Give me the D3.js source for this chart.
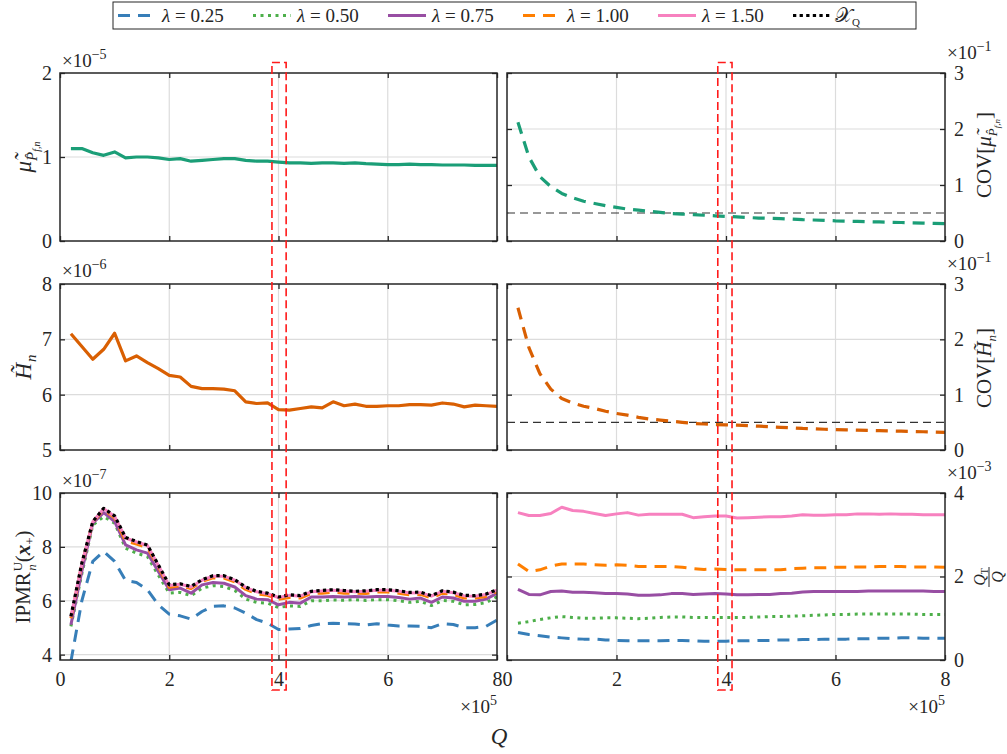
<!DOCTYPE html>
<html>
<head>
<meta charset="utf-8">
<script src="https://cdn.jsdelivr.net/npm/d3@7.9.0/dist/d3.min.js"></script>
<style>
  body { margin: 0; background: #fff; }
  text { font-family: "Liberation Serif", "DejaVu Serif", serif; fill: #262626; }
</style>
</head>
<body>
<svg id="fig" width="1007" height="754"></svg>
<script>
// sample sizes Q (x 10^5)
const Q = [0.2, 0.4, 0.6, 0.8, 1.0, 1.2, 1.4, 1.6, 1.8, 2.0, 2.2, 2.4, 2.6, 2.8, 3.0, 3.2, 3.4, 3.6, 3.8, 4.0,
           4.2, 4.4, 4.6, 4.8, 5.0, 5.2, 5.4, 5.6, 5.8, 6.0, 6.2, 6.4, 6.6, 6.8, 7.0, 7.2, 7.4, 7.6, 7.8, 8.0];

// mean estimate (x 10^-5) and its COV (x 10^-1)
const muPf = [1.10, 1.10, 1.05, 1.02, 1.06, 0.99, 1.00, 1.00, 0.99, 0.97, 0.98, 0.95, 0.96, 0.97, 0.98, 0.98, 0.96, 0.95, 0.95, 0.94,
              0.93, 0.93, 0.925, 0.93, 0.93, 0.925, 0.93, 0.92, 0.915, 0.91, 0.91, 0.915, 0.91, 0.91, 0.905, 0.905, 0.905, 0.90, 0.90, 0.90];
const covMu = [2.12, 1.50, 1.15, 0.97, 0.85, 0.77, 0.71, 0.67, 0.63, 0.60, 0.57, 0.55, 0.53, 0.51, 0.49, 0.48, 0.47, 0.46, 0.45, 0.44,
               0.43, 0.42, 0.41, 0.405, 0.40, 0.39, 0.38, 0.375, 0.37, 0.36, 0.355, 0.35, 0.345, 0.34, 0.335, 0.33, 0.325, 0.32, 0.315, 0.31];

// H_n (x 10^-6) and its COV (x 10^-1)
const Hn = [7.10, 6.87, 6.64, 6.82, 7.11, 6.61, 6.70, 6.58, 6.47, 6.35, 6.32, 6.15, 6.11, 6.11, 6.10, 6.07, 5.87, 5.84, 5.85, 5.73,
            5.72, 5.75, 5.78, 5.76, 5.87, 5.80, 5.83, 5.79, 5.79, 5.80, 5.80, 5.82, 5.82, 5.81, 5.85, 5.83, 5.78, 5.81, 5.80, 5.79];
const covH = [2.57, 1.85, 1.38, 1.10, 0.93, 0.85, 0.79, 0.75, 0.70, 0.66, 0.63, 0.59, 0.56, 0.54, 0.52, 0.50, 0.48, 0.47, 0.46, 0.455,
              0.45, 0.44, 0.43, 0.42, 0.41, 0.40, 0.39, 0.385, 0.375, 0.37, 0.365, 0.36, 0.355, 0.35, 0.345, 0.34, 0.335, 0.33, 0.325, 0.32];
const covTarget = 0.5;

// IPMR^U_n(x+) (x 10^-7)
const ipmr025 = [3.75, 6.00, 7.46, 7.83, 7.46, 6.75, 6.68, 6.41, 5.85, 5.50, 5.44, 5.32, 5.60, 5.79, 5.81, 5.73, 5.54, 5.30, 5.17, 4.93,
                 4.95, 4.97, 5.08, 5.15, 5.16, 5.15, 5.14, 5.10, 5.15, 5.10, 5.06, 5.06, 5.05, 5.00, 5.15, 5.12, 5.00, 5.00, 5.05, 5.28];
const ipmr050 = [5.05, 7.00, 8.81, 9.12, 8.88, 7.95, 7.77, 7.64, 6.95, 6.28, 6.31, 6.19, 6.47, 6.56, 6.53, 6.38, 6.06, 5.94, 5.91, 5.75,
                 5.81, 5.79, 6.00, 6.00, 6.03, 6.02, 6.04, 6.01, 6.04, 6.04, 6.00, 5.94, 5.98, 5.82, 6.01, 5.98, 5.85, 5.86, 5.93, 6.15];
const ipmr075 = [5.11, 7.10, 8.88, 9.27, 8.94, 8.07, 7.89, 7.77, 7.09, 6.41, 6.47, 6.28, 6.59, 6.68, 6.65, 6.51, 6.19, 6.06, 6.04, 5.85,
                 5.94, 5.91, 6.14, 6.14, 6.16, 6.14, 6.16, 6.14, 6.16, 6.16, 6.12, 6.06, 6.10, 5.94, 6.14, 6.10, 5.98, 5.98, 6.06, 6.28];
const ipmr100 = [5.35, 7.35, 8.92, 9.38, 9.08, 8.22, 8.10, 7.98, 7.25, 6.50, 6.56, 6.45, 6.72, 6.85, 6.84, 6.70, 6.42, 6.26, 6.20, 6.05,
                 6.12, 6.10, 6.27, 6.28, 6.32, 6.28, 6.28, 6.27, 6.32, 6.32, 6.28, 6.22, 6.24, 6.10, 6.28, 6.24, 6.10, 6.10, 6.16, 6.34];
const ipmr150 = [5.40, 7.38, 8.93, 9.42, 9.13, 8.33, 8.18, 8.05, 7.31, 6.57, 6.61, 6.51, 6.76, 6.91, 6.91, 6.76, 6.49, 6.33, 6.26, 6.12,
                 6.20, 6.17, 6.33, 6.36, 6.39, 6.36, 6.33, 6.35, 6.39, 6.39, 6.35, 6.29, 6.30, 6.17, 6.35, 6.30, 6.18, 6.17, 6.23, 6.39];
const ipmrXQ  = [5.42, 7.40, 8.94, 9.43, 9.15, 8.35, 8.20, 8.07, 7.33, 6.59, 6.63, 6.53, 6.78, 6.93, 6.93, 6.78, 6.51, 6.35, 6.28, 6.14,
                 6.22, 6.19, 6.35, 6.38, 6.41, 6.38, 6.35, 6.37, 6.41, 6.41, 6.37, 6.31, 6.32, 6.19, 6.37, 6.32, 6.20, 6.19, 6.25, 6.41];

// Q_T / Q (x 10^-3)
const ratio025 = [0.66, 0.61, 0.58, 0.55, 0.53, 0.51, 0.50, 0.50, 0.48, 0.47, 0.46, 0.46, 0.46, 0.46, 0.47, 0.47, 0.46, 0.45, 0.45, 0.45,
                  0.46, 0.46, 0.47, 0.47, 0.48, 0.48, 0.49, 0.49, 0.50, 0.50, 0.50, 0.51, 0.51, 0.52, 0.52, 0.53, 0.53, 0.52, 0.52, 0.52];
const ratio050 = [0.88, 0.92, 0.97, 1.01, 1.04, 1.02, 1.00, 1.00, 1.01, 1.01, 1.00, 0.99, 1.00, 1.02, 1.03, 1.03, 1.02, 1.02, 1.02, 1.02,
                  1.02, 1.02, 1.03, 1.04, 1.04, 1.05, 1.06, 1.07, 1.08, 1.09, 1.09, 1.10, 1.10, 1.10, 1.10, 1.10, 1.10, 1.09, 1.09, 1.09];
const ratio075 = [1.69, 1.57, 1.56, 1.64, 1.65, 1.62, 1.62, 1.61, 1.59, 1.59, 1.58, 1.55, 1.55, 1.56, 1.59, 1.59, 1.57, 1.58, 1.59, 1.58,
                  1.56, 1.56, 1.57, 1.57, 1.59, 1.60, 1.63, 1.64, 1.64, 1.64, 1.64, 1.64, 1.65, 1.65, 1.65, 1.65, 1.65, 1.65, 1.64, 1.64];
const ratio100 = [2.30, 2.12, 2.16, 2.25, 2.30, 2.30, 2.30, 2.28, 2.27, 2.28, 2.27, 2.24, 2.24, 2.24, 2.24, 2.22, 2.19, 2.17, 2.18, 2.17,
                  2.16, 2.16, 2.16, 2.16, 2.16, 2.19, 2.20, 2.21, 2.21, 2.22, 2.22, 2.23, 2.23, 2.24, 2.24, 2.24, 2.23, 2.23, 2.23, 2.22];
const ratio150 = [3.53, 3.46, 3.46, 3.51, 3.66, 3.58, 3.56, 3.51, 3.46, 3.50, 3.53, 3.47, 3.49, 3.49, 3.49, 3.49, 3.41, 3.43, 3.45, 3.45,
                  3.40, 3.41, 3.42, 3.43, 3.43, 3.45, 3.48, 3.47, 3.47, 3.48, 3.48, 3.50, 3.50, 3.49, 3.50, 3.49, 3.49, 3.48, 3.48, 3.48];

const xTicks = [0, 2, 4, 6, 8];
// highlighted window around Q = 4 x 10^5
const boxLeft = [3.88, 4.14];
const boxRight = [3.85, 4.11];

const lambdaLabels = ['0.25', '0.50', '0.75', '1.00', '1.50'];
const lambdaColors = ['#377eb8', '#4daf4a', '#984ea3', '#ff7f00', '#f781bf'];
const lambdaDash = ['12,8', '3,4.5', null, '12,8', null];

const svg = d3.select('#fig');
const colL = [60, 497], colR = [507, 945];
const rows = [[73, 241], [284, 450], [493, 660]];
let clipId = 0;

function makePanel(cols, rowY, yDomain, yTicks, side, showX) {
  const x = d3.scaleLinear().domain([0, 8]).range(cols);
  const y = d3.scaleLinear().domain(yDomain).range([rowY[1], rowY[0]]);
  const g = svg.append('g');

  // grid
  g.selectAll('.vg').data(xTicks.slice(1, -1)).join('line')
    .attr('x1', d => x(d)).attr('x2', d => x(d))
    .attr('y1', rowY[0]).attr('y2', rowY[1])
    .attr('stroke', '#dcdcdc').attr('stroke-width', 1.2);
  g.selectAll('.hg').data(yTicks.filter(t => t > yDomain[0] && t < yDomain[1])).join('line')
    .attr('x1', cols[0]).attr('x2', cols[1])
    .attr('y1', d => y(d)).attr('y2', d => y(d))
    .attr('stroke', '#dcdcdc').attr('stroke-width', 1.2);

  const id = 'clip' + (clipId++);
  svg.append('clipPath').attr('id', id).append('rect')
    .attr('x', cols[0]).attr('y', rowY[0])
    .attr('width', cols[1] - cols[0]).attr('height', rowY[1] - rowY[0]);
  const plot = g.append('g').attr('clip-path', `url(#${id})`);

  const axG = svg.append('g').attr('class', 'axes');
  const styleAx = sel => {
    sel.select('.domain').remove();
    sel.selectAll('line').attr('stroke', '#262626').attr('stroke-width', 1.3);
    sel.selectAll('text').attr('font-size', 20)
      .style('font-family', '"Liberation Serif", serif').attr('fill', '#262626');
  };
  axG.append('g').attr('transform', `translate(0,${rowY[1]})`)
    .call(d3.axisBottom(x).tickValues(xTicks).tickSize(-5).tickPadding(12)
      .tickFormat(showX ? d3.format('d') : ''))
    .call(styleAx);
  axG.append('g').attr('transform', `translate(0,${rowY[0]})`)
    .call(d3.axisTop(x).tickValues(xTicks).tickSize(-5).tickFormat(''))
    .call(styleAx);
  axG.append('g').attr('transform', `translate(${cols[0]},0)`)
    .call(d3.axisLeft(y).tickValues(yTicks).tickSize(-5).tickPadding(8)
      .tickFormat(side === 'left' ? d3.format('d') : ''))
    .call(styleAx);
  axG.append('g').attr('transform', `translate(${cols[1]},0)`)
    .call(d3.axisRight(y).tickValues(yTicks).tickSize(-5).tickPadding(9)
      .tickFormat(side === 'right' ? d3.format('d') : ''))
    .call(styleAx);
  axG.append('rect')
    .attr('x', cols[0]).attr('y', rowY[0])
    .attr('width', cols[1] - cols[0]).attr('height', rowY[1] - rowY[0])
    .attr('fill', 'none').attr('stroke', '#262626').attr('stroke-width', 1.5);

  return { x, y, plot };
}

function drawLine(p, values, color, dash, width) {
  const line = d3.line().x((d, i) => p.x(Q[i])).y(d => p.y(d));
  p.plot.append('path').datum(values)
    .attr('d', line)
    .attr('fill', 'none')
    .attr('stroke', color)
    .attr('stroke-width', width || 3)
    .attr('stroke-dasharray', dash)
    .attr('stroke-linejoin', 'round');
}

function drawTarget(p, v) {
  p.plot.append('line')
    .attr('x1', p.x(0)).attr('x2', p.x(8))
    .attr('y1', p.y(v)).attr('y2', p.y(v))
    .attr('stroke', '#333').attr('stroke-width', 1.2)
    .attr('stroke-dasharray', '8,5');
}

// parts: [text, size, italic, dx, dy, weight]
function richText(parent, x, y, parts, anchor, rotate) {
  const t = parent.append('text')
    .attr('text-anchor', anchor || 'start')
    .attr('transform', `translate(${x},${y})` + (rotate ? ` rotate(${rotate})` : ''));
  parts.forEach(([s, size, italic, dx, dy, weight]) => {
    t.append('tspan').text(s)
      .attr('font-size', size)
      .attr('font-style', italic ? 'italic' : 'normal')
      .attr('font-weight', weight || 'normal')
      .attr('dx', dx || 0).attr('dy', dy || 0);
  });
  return t;
}

function expLabel(x, y, exp, anchor) {
  richText(svg, x, y, [['×10', 19], [exp, 14, false, 0, -8]], anchor);
}

// row 1
const pMu = makePanel(colL, rows[0], [0, 2], [0, 1, 2], 'left', false);
drawLine(pMu, muPf, '#1b9e77', null, 3.2);
const pCovMu = makePanel(colR, rows[0], [0, 3], [0, 1, 2, 3], 'right', false);
drawTarget(pCovMu, covTarget);
drawLine(pCovMu, covMu, '#1b9e77', '12,8', 3.2);

// row 2
const pH = makePanel(colL, rows[1], [5, 8], [5, 6, 7, 8], 'left', false);
drawLine(pH, Hn, '#d95f02', null, 3.2);
const pCovH = makePanel(colR, rows[1], [0, 3], [0, 1, 2, 3], 'right', false);
drawTarget(pCovH, covTarget);
drawLine(pCovH, covH, '#d95f02', '12,8', 3.2);

// row 3
const pI = makePanel(colL, rows[2], [3.8, 10], [4, 6, 8, 10], 'left', true);
[ipmr025, ipmr050, ipmr075, ipmr100, ipmr150].forEach((s, i) =>
  drawLine(pI, s, lambdaColors[i], lambdaDash[i]));
drawLine(pI, ipmrXQ, '#000', '3.3,3.3', 3.2);
const pR = makePanel(colR, rows[2], [0, 4], [0, 2, 4], 'right', true);
[ratio025, ratio050, ratio075, ratio100, ratio150].forEach((s, i) =>
  drawLine(pR, s, lambdaColors[i], lambdaDash[i]));

// exponent labels
expLabel(62, 67, '−5', 'start');
expLabel(947, 59, '−1', 'start');
expLabel(62, 277, '−6', 'start');
expLabel(947, 270, '−1', 'start');
expLabel(62, 487, '−7', 'start');
expLabel(947, 479, '−3', 'start');
expLabel(497, 713, '5', 'end');
expLabel(945, 713, '5', 'end');

// axis labels
richText(svg, 31, 157, [['μ̃', 23, true], ['P̂', 15, true, 0, 6], ['f,n', 10, true, 0, 3]], 'middle', -90);
richText(svg, 31, 367, [['H̃', 23, true], ['n', 15, true, 1, 5]], 'middle', -90);
richText(svg, 30, 577, [['IPMR', 21], ['U', 13, false, 1, -8], ['n', 13, true, -9, 14],
  ['(', 21, false, 2, -6], ['x', 21, true, 0, 0, 'bold'], ['+', 13, false, 0, 4], [')', 21, false, 0, -4]], 'middle', -90);
richText(svg, 991, 155, [['COV[', 21], ['μ̃', 21, true], ['P̂', 13, true, 0, 6], ['f,n', 9, true, 0, 3], [']', 21, false, 0, -9]], 'middle', -90);
richText(svg, 991, 368, [['COV[', 21], ['H̃', 21, true], ['n', 13, true, 0, 5], [']', 21, false, 0, -5]], 'middle', -90);
const frac = svg.append('g').attr('transform', 'translate(989,577) rotate(-90)');
richText(frac, 0, -4, [['Q', 16, true], ['T', 10, false, 0, 3]], 'middle');
frac.append('line').attr('x1', -10).attr('x2', 10).attr('y1', 0).attr('y2', 0)
  .attr('stroke', '#262626').attr('stroke-width', 1);
richText(frac, 0, 14, [['Q', 16, true]], 'middle');
richText(svg, 499, 744, [['Q', 23, true]], 'middle');

// red highlight windows
[[pI.x, boxLeft], [pR.x, boxRight]].forEach(([x, b]) => {
  svg.append('rect')
    .attr('x', x(b[0])).attr('y', 62.5)
    .attr('width', x(b[1]) - x(b[0])).attr('height', 627.5)
    .attr('fill', 'none').attr('stroke', '#ff1a1a').attr('stroke-width', 1.6)
    .attr('stroke-dasharray', '8,4');
});

// legend
const leg = svg.append('g');
leg.append('rect').attr('x', 113).attr('y', 2).attr('width', 803).attr('height', 27)
  .attr('fill', '#fff').attr('stroke', '#262626').attr('stroke-width', 1);
const legItems = lambdaLabels.map((l, i) => ({ color: lambdaColors[i], dash: lambdaDash[i], label: l }));
legItems.push({ color: '#000', dash: '3.3,3.3', label: null });
legItems.forEach((d, i) => {
  const x0 = 118 + i * 135;
  leg.append('line').attr('x1', x0).attr('x2', x0 + 38).attr('y1', 15.5).attr('y2', 15.5)
    .attr('stroke', d.color).attr('stroke-width', 3)
    .attr('stroke-dasharray', d.dash);
  if (d.label) {
    richText(leg, x0 + 44, 22, [['λ', 19, true], [' = ' + d.label, 19]]);
  } else {
    richText(leg, x0 + 42, 22, [['𝒳', 20, false], ['Q', 11, false, 0, 4]]);
  }
});
</script>
</body>
</html>
